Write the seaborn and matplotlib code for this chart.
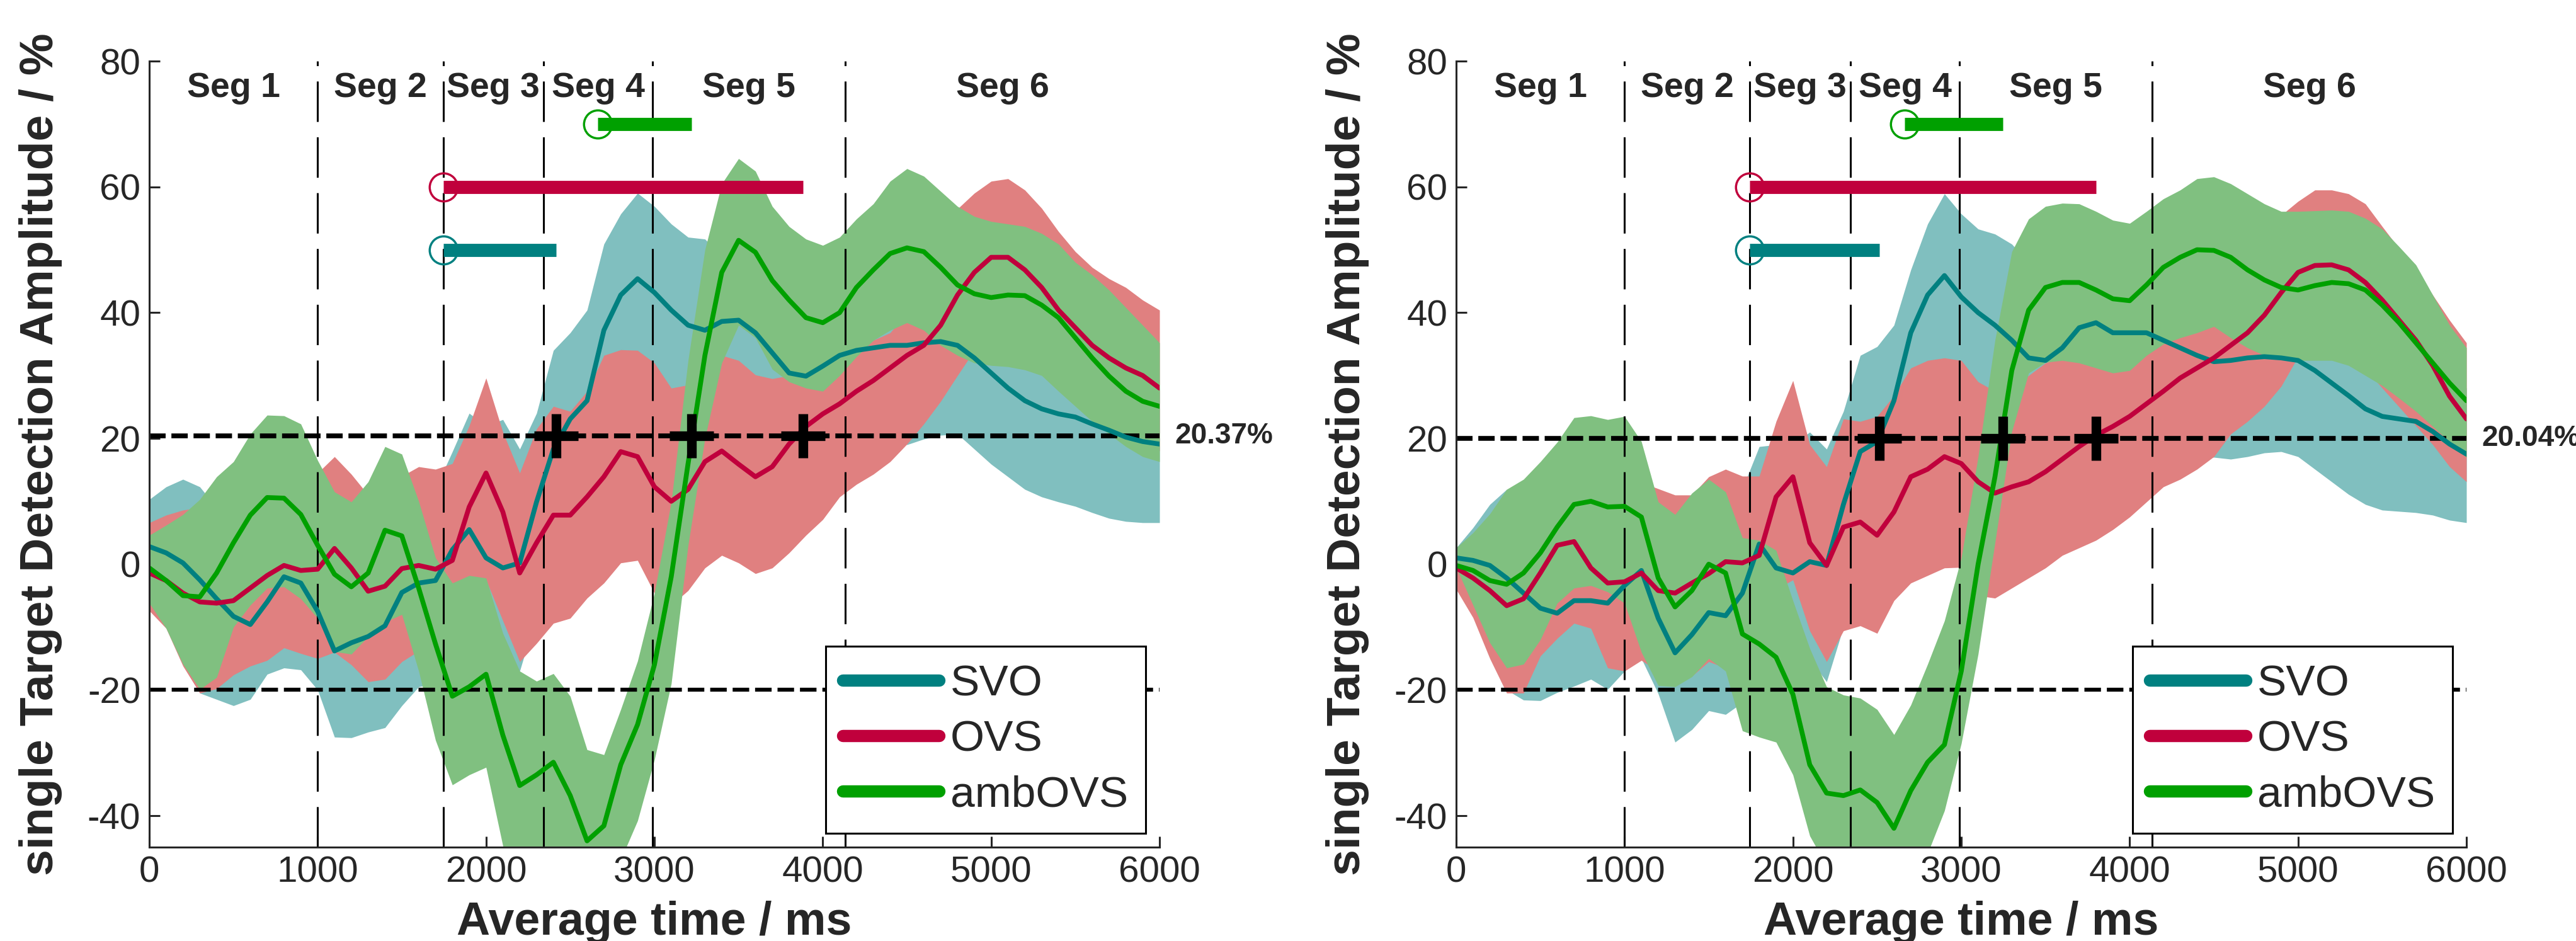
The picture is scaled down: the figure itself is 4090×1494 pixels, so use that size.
import matplotlib
matplotlib.use('Agg')
import matplotlib.pyplot as plt
from matplotlib.lines import Line2D
import seaborn as sns

# sample times (ms) of all curves below
time_ms = list(range(0, 6001, 100))
names = ['SVO', 'OVS', 'ambOVS']

# ---------------- left panel ----------------
svo_l = [2.8, 1.8, 0.2, -2.5, -5.5, -8.3, -9.6, -6.0, -2.0, -3.0,
         -7.5, -13.8, -12.5, -11.5, -9.8, -4.5, -3.0, -2.6, 2.3, 5.5,
         1.0, -0.6, 0.2, 9.9, 18.3, 23.1, 26.0, 37.2, 42.8, 45.4,
         43.2, 40.4, 38.0, 37.2, 38.6, 38.8, 36.8, 33.6, 30.4, 29.9,
         31.5, 33.2, 34.0, 34.4, 34.8, 34.8, 35.2, 35.4, 34.8, 32.8,
         30.4, 28.0, 26.0, 24.7, 23.9, 23.4, 22.3, 21.3, 20.2, 19.5, 19.1]
ovs_l = [-1.4, -2.6, -4.6, -6.0, -6.2, -5.8, -3.8, -1.8, -0.2, -1.0,
         -0.8, 2.5, -0.6, -4.3, -3.5, -0.7, -0.2, -0.8, 0.6, 9.1,
         14.5, 8.3, -1.4, 3.4, 7.8, 7.8, 10.7, 13.9, 17.9, 17.1,
         12.3, 10.0, 11.9, 16.3, 18.0, 15.9, 13.9, 15.5, 19.1, 21.9,
         23.9, 25.5, 27.5, 29.2, 31.2, 33.2, 34.8, 38.0, 42.8, 46.4,
         48.8, 48.8, 46.8, 44.0, 40.4, 37.6, 34.8, 32.8, 31.2, 30.0, 28.0]
amb_l = [-0.6, -2.6, -5.0, -5.2, -1.4, 3.4, 7.8, 10.6, 10.5, 7.9,
         3.0, -1.6, -3.6, -1.4, 5.4, 4.5, -3.8, -12.7, -21.0, -19.5,
         -17.5, -27.2, -35.2, -33.5, -31.5, -36.8, -44.0, -41.6, -31.9, -25.5,
         -16.0, -2.0, 16.0, 33.2, 46.4, 51.5, 49.6, 45.1, 42.0, 39.2,
         38.4, 40.0, 44.0, 46.8, 49.4, 50.3, 49.7, 47.2, 44.4, 43.0,
         42.4, 42.8, 42.7, 41.2, 39.2, 36.0, 32.8, 29.9, 27.5, 25.9, 25.1]
svo_up_l = [10.3, 12.3, 13.5, 12.3, 9.0, 5.0, 3.0, 5.0, 8.0, 7.0,
            3.0, -3.0, -2.0, -1.0, 1.0, 5.0, 9.0, 12.0, 17.9, 24.0,
            22.0, 23.0, 18.3, 24.0, 34.0, 36.8, 40.4, 50.9, 55.7, 59.0,
            56.9, 54.1, 52.0, 51.7, 49.0, 46.0, 45.0, 43.0, 40.0, 38.0,
            38.0, 40.0, 42.0, 42.0, 42.0, 42.0, 43.0, 43.0, 42.0, 40.0,
            38.0, 36.0, 34.0, 33.0, 32.0, 31.0, 30.0, 29.0, 29.0, 28.0, 28.0]
svo_lo_l = [-6.0, -9.0, -16.0, -20.5, -21.5, -22.5, -21.5, -17.5, -16.5, -16.8,
            -20.0, -27.5, -27.6, -26.7, -26.0, -22.5, -19.5, -19.0, -18.0, -16.0,
            -14.0, -14.5, -17.0, -8.0, 0.0, 4.0, 8.0, 12.0, 14.0, 16.0,
            18.0, 22.0, 22.0, 25.0, 27.0, 26.0, 24.0, 21.0, 19.0, 18.0,
            19.0, 21.0, 22.0, 21.0, 20.0, 19.0, 19.9, 20.5, 20.7, 18.3,
            15.9, 13.9, 11.9, 10.7, 9.9, 9.2, 8.2, 7.3, 6.8, 6.6, 6.6]
ovs_up_l = [6.6, 7.8, 8.6, 9.0, 10.0, 11.0, 11.0, 10.0, 10.0, 12.0,
            14.5, 17.1, 14.3, 11.0, 12.0, 14.0, 15.5, 15.1, 16.0, 22.0,
            29.6, 21.0, 14.5, 21.5, 25.1, 24.3, 27.5, 33.2, 34.1, 34.0,
            32.0, 28.0, 28.5, 31.0, 33.2, 32.4, 30.1, 29.5, 30.0, 31.0,
            32.0, 33.0, 33.2, 35.6, 36.8, 40.0, 44.0, 50.0, 56.5, 59.0,
            60.9, 61.3, 59.5, 56.6, 52.9, 49.7, 47.2, 45.4, 44.0, 42.0, 40.4]
ovs_lo_l = [-7.4, -10.2, -16.2, -20.5, -19.8, -17.6, -16.2, -15.3, -13.3, -14.2,
            -15.0, -14.0, -16.0, -18.7, -18.3, -15.5, -13.8, -10.0, -4.0, -2.0,
            -2.5, -9.0, -15.5, -12.6, -9.4, -8.6, -5.4, -3.0, 0.2, 0.6,
            -4.6, -6.5, -4.2, -0.6, 1.4, 0.2, -1.5, -0.6, 1.8, 4.6,
            7.1, 10.7, 12.7, 14.3, 16.3, 19.1, 22.3, 25.9, 30.0, 34.0,
            36.0, 37.0, 36.0, 34.0, 31.0, 28.0, 26.0, 24.0, 22.0, 20.0, 18.0]
amb_up_l = [4.6, 6.2, 7.9, 10.3, 13.9, 16.3, 20.7, 23.7, 23.6, 22.3,
            16.5, 11.5, 9.9, 13.1, 18.7, 17.5, 10.0, 1.0, -3.0, -1.8,
            -2.2, -11.0, -17.0, -18.6, -17.4, -21.0, -29.5, -30.3, -23.1, -15.4,
            -4.6, 9.9, 32.4, 50.0, 60.5, 64.5, 62.5, 56.9, 53.7, 51.7,
            50.7, 52.0, 54.9, 57.3, 60.9, 62.9, 61.7, 59.3, 56.9, 55.3,
            54.5, 54.1, 53.7, 52.6, 50.9, 48.0, 46.0, 43.6, 40.8, 38.0, 35.2]
amb_lo_l = [-6.2, -10.2, -15.9, -19.9, -18.0, -10.0, -6.5, -3.8, -3.6, -5.5,
            -8.6, -13.9, -14.3, -11.5, -9.2, -8.0, -17.0, -28.0, -35.1, -33.5,
            -32.3, -44.8, -50.0, -52.0, -53.0, -54.0, -55.0, -54.0, -47.0, -40.8,
            -31.1, -19.0, 3.0, 20.0, 32.0, 38.0, 36.0, 31.0, 29.0, 28.0,
            27.5, 30.0, 33.0, 35.6, 37.2, 38.4, 37.2, 34.8, 33.2, 32.0,
            31.6, 31.4, 30.9, 30.0, 27.5, 25.1, 22.7, 20.7, 18.7, 17.1, 16.3]

# ---------------- right panel ----------------
svo_r = [1.0, 0.6, -0.2, -2.2, -4.6, -7.0, -7.8, -5.8, -5.8, -6.2,
         -3.4, -1.0, -8.6, -14.1, -11.2, -7.7, -8.2, -4.6, 3.2, -0.6,
         -1.4, 0.4, -0.2, 9.5, 17.9, 19.5, 26.0, 36.8, 42.8, 45.9,
         42.5, 40.0, 38.0, 35.6, 32.8, 32.4, 34.4, 37.6, 38.4, 36.8,
         36.8, 36.8, 35.6, 34.4, 33.2, 32.2, 32.4, 32.8, 33.0, 32.8,
         32.4, 30.8, 28.8, 26.8, 24.7, 23.5, 23.1, 22.7, 21.1, 19.1, 17.5]
ovs_r = [-0.6, -2.2, -4.2, -6.6, -5.5, -1.4, 3.0, 3.6, -0.6, -3.0,
         -2.8, -1.4, -4.2, -4.6, -3.0, -1.5, 0.4, 0.2, 1.4, 10.7,
         13.9, 3.4, -0.2, 5.9, 6.7, 4.6, 8.3, 13.9, 15.1, 17.1,
         16.0, 13.1, 11.3, 12.3, 13.1, 14.7, 16.7, 18.7, 20.5, 21.9,
         23.5, 25.5, 27.5, 29.6, 31.2, 32.8, 34.8, 36.8, 39.6, 43.2,
         46.4, 47.5, 47.6, 46.8, 44.8, 42.0, 38.8, 35.6, 31.6, 26.7, 23.1]
amb_r = [-0.2, -1.0, -2.6, -3.2, -1.4, 1.8, 5.9, 9.5, 10.0, 9.1,
         9.2, 7.5, -2.2, -6.8, -4.2, 0.0, -1.4, -11.1, -12.7, -14.8,
         -20.7, -31.9, -36.4, -36.8, -35.9, -37.9, -42.0, -36.0, -31.5, -28.7,
         -17.0, 0.0, 13.9, 30.8, 40.4, 44.0, 44.8, 44.8, 43.6, 42.2,
         41.9, 44.4, 47.2, 48.8, 50.0, 49.9, 48.8, 46.8, 45.2, 44.0,
         43.6, 44.3, 44.8, 44.6, 43.6, 41.2, 38.4, 35.2, 32.0, 28.8, 26.0]
svo_up_r = [2.6, 5.8, 9.5, 11.9, 8.0, 5.0, 4.0, 6.0, 6.0, 5.0,
            7.0, 9.0, 4.0, -2.0, 0.0, 3.0, 8.0, 12.0, 18.7, 19.0,
            19.0, 21.0, 18.3, 24.3, 33.2, 34.6, 38.0, 46.8, 54.1, 58.9,
            55.7, 53.3, 52.5, 50.9, 48.0, 45.0, 44.0, 44.0, 43.0, 42.0,
            42.0, 42.0, 42.0, 41.0, 41.0, 40.0, 40.0, 40.0, 40.0, 39.0,
            38.0, 37.0, 36.0, 35.0, 34.0, 33.0, 32.0, 31.0, 30.0, 29.0, 28.0]
svo_lo_r = [-2.0, -7.0, -13.0, -20.0, -21.6, -21.7, -20.4, -19.4, -18.3, -19.9,
            -17.0, -15.0, -20.6, -28.3, -26.3, -23.3, -23.9, -22.0, -20.0, -19.0,
            -18.0, -15.1, -18.7, -10.0, 0.0, 6.0, 10.0, 14.0, 16.0, 17.0,
            17.0, 18.0, 19.0, 19.0, 18.0, 18.0, 20.0, 22.0, 22.0, 21.0,
            20.0, 19.0, 18.0, 17.0, 17.0, 17.0, 16.7, 17.1, 17.7, 17.9,
            17.1, 15.1, 13.1, 11.1, 9.5, 8.6, 8.4, 8.2, 7.8, 7.0, 6.6]
ovs_up_r = [1.5, 4.0, 6.0, 7.0, 8.0, 9.0, 12.0, 14.0, 14.0, 12.0,
            12.0, 13.0, 12.0, 11.0, 11.0, 13.9, 15.1, 14.0, 14.0, 22.7,
            29.2, 19.0, 15.5, 23.1, 22.7, 23.5, 26.8, 31.2, 32.4, 32.8,
            32.4, 29.0, 27.5, 28.0, 30.0, 32.0, 33.0, 33.0, 33.0, 33.0,
            34.0, 35.0, 36.0, 37.0, 37.5, 40.0, 45.0, 50.0, 52.0, 55.5,
            57.7, 59.5, 59.5, 58.9, 57.3, 53.7, 50.2, 46.8, 42.8, 38.8, 35.2]
ovs_lo_r = [-4.0, -8.5, -15.0, -20.5, -20.5, -14.6, -11.8, -9.4, -10.2, -16.5,
            -17.0, -15.3, -17.0, -19.2, -17.8, -15.5, -16.5, -14.0, -10.0, -4.0,
            -2.5, -10.6, -15.5, -10.6, -9.8, -11.0, -5.8, -3.0, -1.8, -0.6,
            -0.5, -5.0, -5.4, -3.8, -2.2, -0.6, 1.4, 2.6, 3.8, 5.5,
            7.5, 9.9, 12.3, 13.5, 15.1, 17.1, 20.7, 22.7, 25.1, 28.3,
            33.0, 34.0, 34.0, 33.0, 31.0, 28.0, 25.0, 22.0, 19.0, 15.5, 13.1]
amb_up_r = [2.6, 5.0, 8.0, 11.9, 13.5, 16.3, 19.4, 23.3, 23.6, 23.0,
            23.5, 19.5, 9.9, 7.9, 11.3, 13.5, 11.5, 4.2, 3.8, 2.2,
            -5.8, -13.4, -19.5, -20.8, -21.3, -23.1, -27.1, -22.4, -15.9, -9.0,
            1.0, 17.1, 35.6, 49.7, 54.9, 56.9, 57.4, 57.3, 56.1, 54.7,
            54.2, 56.1, 58.1, 59.5, 61.3, 61.6, 60.5, 58.9, 57.3, 56.1,
            56.1, 56.2, 56.3, 56.1, 55.0, 53.3, 50.5, 47.6, 42.8, 38.0, 34.4]
amb_lo_r = [-0.5, -6.5, -12.5, -16.5, -15.9, -12.0, -6.2, -3.8, -3.4, -4.4,
            -6.2, -14.0, -19.3, -19.5, -17.9, -15.0, -17.0, -26.5, -27.5, -28.3,
            -33.5, -43.2, -48.0, -50.0, -50.0, -50.0, -50.0, -49.0, -46.0, -39.2,
            -28.5, -14.3, 3.4, 21.1, 30.4, 32.1, 32.4, 32.0, 31.2, 30.4,
            30.8, 33.2, 35.0, 36.0, 36.8, 37.8, 36.0, 34.4, 33.2, 32.5,
            32.4, 32.4, 32.4, 31.6, 30.0, 28.4, 26.4, 24.3, 21.9, 19.5, 17.0]

# significance bars (SVO, OVS, ambOVS), threshold crossings
sig_level = [50, 60, 70]
sig_start_l = [1745, 1745, 2665]
sig_end_l = [2418, 3883, 3220]
sig_start_r = [1745, 1745, 2665]
sig_end_r = [2515, 3800, 3245]
thr_l = 20.37
thr_r = 20.04
chance_level = -20

seg_bounds = [1000, 1745, 2340, 2990, 4135]
seg_labels = ['Seg 1', 'Seg 2', 'Seg 3', 'Seg 4', 'Seg 5', 'Seg 6']

line_colors = ['#008080', '#C0003C', '#00A000']
fill_colors = ['#80BFBF', '#E08080', '#80C080']

sns.set_style('ticks')
plt.rcParams['font.family'] = ['Liberation Sans', 'DejaVu Sans']
plt.rcParams['axes.unicode_minus'] = False


def draw_panel(ax, means, uppers, lowers, sig_start, sig_end, thr):
    # confidence bands, drawn opaque in order
    for i in range(3):
        ax.fill_between(time_ms, lowers[i], uppers[i], color=fill_colors[i],
                        lw=0, zorder=1 + i)
    # segment boundaries
    for b in seg_bounds:
        ax.axvline(b, color='k', lw=2.2, dashes=(21, 8), zorder=4)
    ax.axhline(thr, color='k', lw=5.5, dashes=(3.4, 1.2), zorder=4)
    ax.axhline(chance_level, color='k', lw=4.5, dashes=(4.2, 1.5), zorder=4)
    # mean curves
    for i in range(3):
        sns.lineplot(x=time_ms, y=means[i], color=line_colors[i], lw=5.5,
                     ax=ax, zorder=5 + i, legend=False)
    # significance bars with onset circles and threshold crosses
    for i in range(3):
        ax.plot(sig_start[i], sig_level[i], 'o', ms=32, mfc='none',
                mec=line_colors[i], mew=2.5, zorder=9)
        ax.plot([sig_start[i], sig_end[i]], [sig_level[i], sig_level[i]],
                color=line_colors[i], lw=15, solid_capstyle='butt', zorder=10)
        ax.plot(sig_end[i], thr, '+', ms=50, mew=11, color='k', zorder=11)

    edges = [0] + seg_bounds + [6000]
    for i, lab in enumerate(seg_labels):
        ax.text((edges[i] + edges[i + 1]) / 2, 74.3, lab, ha='center',
                va='baseline', fontsize=40, fontweight='bold', zorder=12)
    ax.text(6090, thr, f'{thr:.2f}%', ha='left', va='center', fontsize=33,
            fontweight='bold', clip_on=False)

    ax.set_xlim(0, 6000)
    ax.set_ylim(-45, 80)
    ax.set_xticks(range(0, 6001, 1000))
    ax.set_yticks(range(-40, 81, 20))
    sns.despine(ax=ax)
    for sp in ['left', 'bottom']:
        ax.spines[sp].set_linewidth(2.2)
        ax.spines[sp].set_zorder(13)
    ax.tick_params(direction='in', length=12, width=2.2, labelsize=42, pad=10)
    ax.set_xlabel('Average time / ms', fontsize=53, fontweight='bold')
    ax.set_ylabel('single Target Detection Amplitude / %', fontsize=54,
                  fontweight='bold')
    ax.xaxis.set_label_coords(0.5, -0.068)
    ax.yaxis.set_label_coords(-0.086, 0.5)

    handles = [Line2D([0], [0], color=c, lw=14) for c in line_colors]
    leg = ax.legend(handles, names, loc='lower right',
                    bbox_to_anchor=(0.986, 0.018), fontsize=50, frameon=True,
                    fancybox=False, edgecolor='k', framealpha=1,
                    handlelength=2.2, handletextpad=0.25, borderpad=0.4,
                    labelspacing=0.35, borderaxespad=0)
    leg.get_frame().set_linewidth(2.2)
    leg.set_zorder(20)


fig = plt.figure(figsize=(40.9, 14.94), dpi=100)
ax_l = fig.add_axes([0.05795, 0.09973, 0.39218, 0.83534])
ax_r = fig.add_axes([0.56528, 0.09973, 0.39218, 0.83534])

draw_panel(ax_l, [svo_l, ovs_l, amb_l], [svo_up_l, ovs_up_l, amb_up_l],
           [svo_lo_l, ovs_lo_l, amb_lo_l], sig_start_l, sig_end_l, thr_l)
draw_panel(ax_r, [svo_r, ovs_r, amb_r], [svo_up_r, ovs_up_r, amb_up_r],
           [svo_lo_r, ovs_lo_r, amb_lo_r], sig_start_r, sig_end_r, thr_r)

fig.savefig('out.png', dpi=100)
